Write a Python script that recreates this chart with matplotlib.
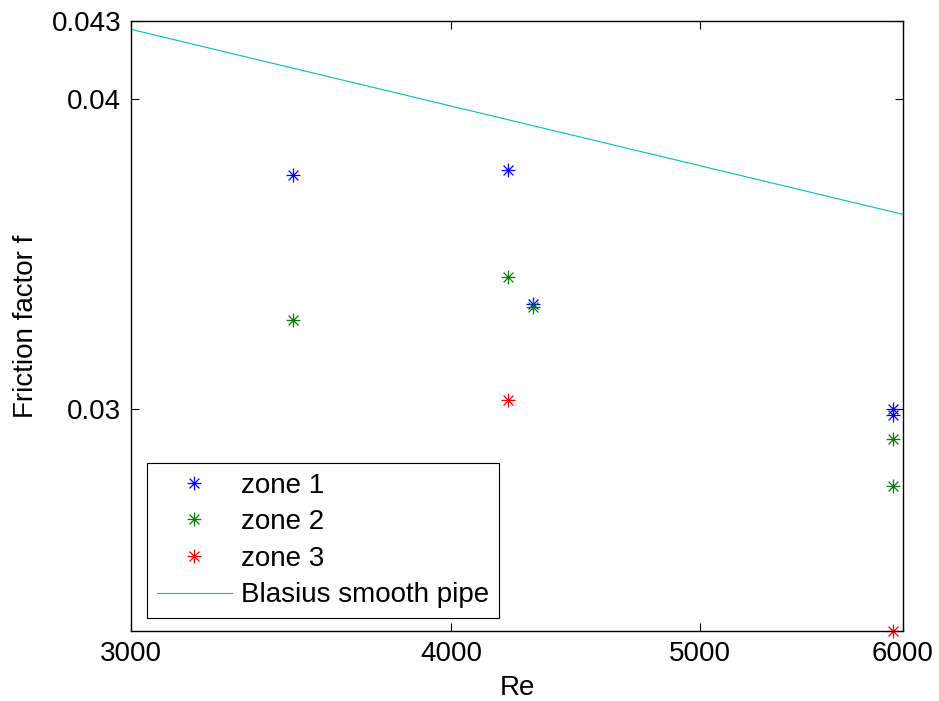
import matplotlib.pyplot as plt
from matplotlib.path import Path
from matplotlib.ticker import FixedLocator, FixedFormatter, NullLocator

plt.rcParams['font.family'] = ['Liberation Sans', 'DejaVu Sans']

# measured points per zone (Re, friction factor)
re_zone1 = [3470, 4209, 4304, 5945, 5945]
f_zone1 = [0.03726, 0.03744, 0.03306, 0.03000, 0.02981]
re_zone2 = [3470, 4209, 4304, 5945, 5945]
f_zone2 = [0.03258, 0.03390, 0.03296, 0.02915, 0.02793]
re_zone3 = [4209, 5945]
f_zone3 = [0.03025, 0.02440]

# Blasius curve end points (straight on log-log axes)
re_blasius = [3000, 6000]
f_blasius = [0.04267, 0.03593]

x_ticks = [3000, 4000, 5000, 6000]
x_tick_labels = ['3000', '4000', '5000', '6000']
y_ticks = [0.03, 0.04, 0.043]
y_tick_labels = ['0.03', '0.04', '0.043']

# MATLAB-style asterisk: a plus and a cross drawn on top of each other
d = 0.7071
asterisk = Path(
    [(-1, 0), (1, 0), (0, -1), (0, 1), (-d, -d), (d, d), (-d, d), (d, -d)],
    [Path.MOVETO, Path.LINETO] * 4,
)

fs = 20
fig = plt.figure(figsize=(9.39, 7.01), dpi=100)
ax = fig.add_axes([0.1395, 0.0999, 0.8222, 0.8701])

mk = dict(marker=asterisk, linestyle='none', markersize=10, markeredgewidth=0.9,
          markerfacecolor='none')
ax.loglog(re_zone1, f_zone1, color=(0, 0, 1), label='zone 1', **mk)
ax.loglog(re_zone2, f_zone2, color=(0, 0.5, 0), label='zone 2', **mk)
ax.loglog(re_zone3, f_zone3, color=(1, 0, 0), label='zone 3', clip_on=False, **mk)
ax.loglog(re_blasius, f_blasius, '-', color=(0, 0.75, 0.75), linewidth=0.8,
          label='Blasius smooth pipe')

ax.set_xlim(3000, 6000)
ax.set_ylim(0.0244, 0.043)

ax.xaxis.set_major_locator(FixedLocator(x_ticks))
ax.xaxis.set_major_formatter(FixedFormatter(x_tick_labels))
ax.xaxis.set_minor_locator(NullLocator())
ax.yaxis.set_major_locator(FixedLocator(y_ticks))
ax.yaxis.set_major_formatter(FixedFormatter(y_tick_labels))
ax.yaxis.set_minor_locator(NullLocator())
ax.tick_params(direction='in', top=True, right=True, length=6, width=0.8,
               labelsize=fs, pad=7)
for s in ax.spines.values():
    s.set_linewidth(1.0)

ax.set_xlabel('Re', fontsize=fs, labelpad=6)
ax.set_ylabel('Friction factor f', fontsize=fs, labelpad=9)

leg = ax.legend(loc='lower left', bbox_to_anchor=(0.0207, 0.0213), borderaxespad=0,
                fontsize=fs, fancybox=False, edgecolor='black', framealpha=1,
                handlelength=2.7, handletextpad=0.35, labelspacing=0.38,
                borderpad=0.35)
leg.get_frame().set_linewidth(0.8)

fig.savefig('out.png', dpi=100)
